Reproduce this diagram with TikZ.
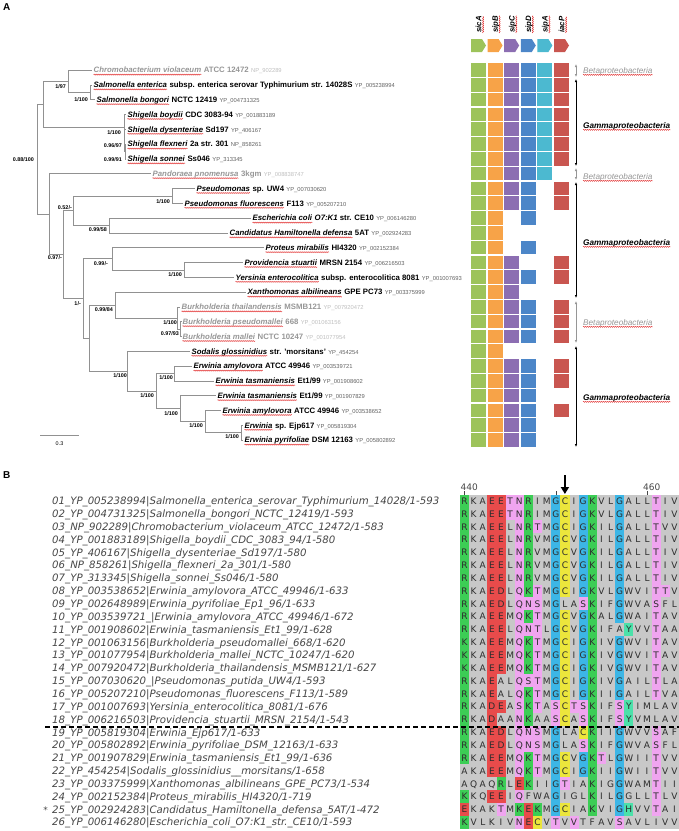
\documentclass[tikz,border=0pt]{standalone}
\usepackage{fontspec}
\setmainfont{Liberation Sans}
\newfontfamily\alnfont{DejaVu Sans}
\usepackage{xcolor}
\usepackage{tikz}
\usetikzlibrary{arrows.meta, positioning, calc, decorations.pathmorphing}
\definecolor{treegray}{RGB}{145,145,145}
\definecolor{betagray}{RGB}{150,150,150}
\definecolor{squig}{RGB}{225,45,45}
\definecolor{namegray}{RGB}{70,70,70}
\definecolor{resgray}{RGB}{45,45,45}
% gene colours
\definecolor{g1}{RGB}{157,195,90}
\definecolor{g2}{RGB}{247,163,72}
\definecolor{g3}{RGB}{140,110,178}
\definecolor{g4}{RGB}{76,134,200}
\definecolor{g5}{RGB}{76,185,208}
\definecolor{g6}{RGB}{201,86,80}
% alignment colours
\definecolor{ag}{RGB}{60,205,85}
\definecolor{ar}{RGB}{232,75,75}
\definecolor{ap}{RGB}{240,165,240}
\definecolor{ac}{RGB}{60,182,230}
\definecolor{ay}{RGB}{236,230,60}
\definecolor{at}{RGB}{75,225,170}
\definecolor{ax}{RGB}{200,200,200}
\newcommand{\strain}[2]{\textbf{#1}\hspace{0.3em}{\fontsize{5.8}{6}\selectfont\textcolor{.!62!white}{\detokenize{#2}}}}
\newcounter{alncol}
\newcommand{\alncell}[2]{%
  \pgfmathsetmacro\xl{460+\thealncol*9.125}%
  \fill[fill=a#2] (\xl,\yc-6.43) rectangle ++(9.2,12.9);%
  \node[resid] (res-\i-\thealncol) at (\xl+4.56,\yc+3.3) {#1};%
  \stepcounter{alncol}}
\def\alnstep#1#2|#3#4|{\ifx#1\relax\else\alncell{#1}{#3}\alnstep#2|#4|\fi}

\begin{document}
\begin{tikzpicture}[x=1pt, y=-1pt,
    tree/.style={draw=treegray, line width=0.6pt},
    taxlab/.style={anchor=base west, inner sep=0pt, xshift=1.5pt, yshift=-2.8pt, font=\fontsize{7.8}{9}\selectfont\bfseries\itshape},
    betalab/.style={taxlab, text=betagray},
    strainlab/.style={anchor=base west, inner sep=0pt, xshift=2.2pt, font=\fontsize{7.8}{9}\selectfont},
    betastrain/.style={strainlab, text=betagray},
    squiggle/.style={draw=squig, line width=0.4pt, decorate, decoration={snake, amplitude=0.6pt, segment length=2pt}},
    boot/.style={anchor=base east, inner sep=0pt, font=\fontsize{5.4}{6}\selectfont\bfseries},
    genelab/.style={rotate=90, anchor=base west, inner sep=0pt, font=\fontsize{7.8}{9}\selectfont\bfseries\itshape},
    grparrow/.style={{Latex[length=3pt,width=2.5pt]}-{Latex[length=3pt,width=2.5pt]}, line width=0.6pt},
    grplab/.style={anchor=base west, inner sep=0pt, font=\fontsize{8.2}{9}\selectfont\itshape},
    seqname/.style={anchor=base west, inner sep=0pt, text=namegray, font=\alnfont\itshape\fontsize{10.2}{12}\selectfont},
    resid/.style={anchor=base, inner sep=0pt, text=resgray, font=\alnfont\fontsize{9}{10}\selectfont},
    panel/.style={anchor=north west, inner sep=0pt, font=\fontsize{10}{10}\selectfont\bfseries}
]
\useasboundingbox (0,0) rectangle (679,831);

%% ---------- panel A ----------
\node[panel] (pA) at (3,3) {A};

% leaf ends
\coordinate (l1) at (92,70);
\coordinate (l2) at (92,84.8);
\coordinate (l3) at (95,99.6);
\coordinate (l4) at (126,114.4);
\coordinate (l5) at (126,129.2);
\coordinate (l6) at (126,144);
\coordinate (l7) at (126,158.8);
\coordinate (l8) at (151,173.6);
\coordinate (l9) at (195,188.4);
\coordinate (l10) at (183,203.2);
\coordinate (l11) at (251,218);
\coordinate (l12) at (228,232.8);
\coordinate (l13) at (264,247.6);
\coordinate (l14) at (243,262.4);
\coordinate (l15) at (234,277.2);
\coordinate (l16) at (246,292);
\coordinate (l17) at (180,306.8);
\coordinate (l18) at (181,321.6);
\coordinate (l19) at (181,336.4);
\coordinate (l20) at (190,351.2);
\coordinate (l21) at (192,366);
\coordinate (l22) at (214,380.8);
\coordinate (l23) at (216,395.6);
\coordinate (l24) at (221,410.4);
\coordinate (l25) at (243,425.2);
\coordinate (l26) at (243,440);
% inner nodes
\coordinate (Sa) at (90,92.2);
\coordinate (T) at (68,81.1);
\coordinate (S3) at (125.2,151.4);
\coordinate (S2) at (124.6,140.3);
\coordinate (S1) at (124,127.4);
\coordinate (A) at (43,104.2);
\coordinate (P) at (172,195.8);
\coordinate (Q) at (109,225.4);
\coordinate (D) at (73,210.6);
\coordinate (J) at (184,269.8);
\coordinate (I) at (112,258.7);
\coordinate (K2) at (180.5,329);
\coordinate (K) at (177,317.9);
\coordinate (H) at (115,305);
\coordinate (M) at (174,373.4);
\coordinate (N3) at (241,432.6);
\coordinate (N2) at (205,421.5);
\coordinate (N) at (180,408.5);
\coordinate (L) at (156,391);
\coordinate (G) at (127,371.1);
\coordinate (F) at (89,338);
\coordinate (E) at (83,298.4);
\coordinate (C) at (63,254.5);
\coordinate (B) at (49,214);
\coordinate (R) at (37,159.1);

\foreach \pa/\ch in {Sa/l2, Sa/l3, T/l1, T/Sa, S3/l6, S3/l7, S2/l5, S2/S3, S1/l4, S1/S2,
    A/T, A/S1, P/l9, P/l10, Q/l11, Q/l12, D/P, D/Q, J/l14, J/l15, I/l13, I/J,
    K2/l18, K2/l19, K/l17, K/K2, H/l16, H/K, M/l21, M/l22, N3/l25, N3/l26,
    N2/l24, N2/N3, N/l23, N/N2, L/M, L/N, G/l20, G/L, F/H, F/G, E/I, E/F,
    C/D, C/E, B/l8, B/C, R/A, R/B}
  \draw[tree] (\pa) |- (\ch);

% taxa
\node[betalab] (t1) at (l1) {Chromobacterium violaceum};
\node[betastrain] (s1) at (t1.base east) {\strain{ATCC 12472}{NP_902289}};
\node[taxlab] (t2) at (l2) {Salmonella enterica};
\node[strainlab] (s2) at (t2.base east) {\strain{subsp. enterica serovar Typhimurium str. 14028S}{YP_005238994}};
\node[taxlab] (t3) at (l3) {Salmonella bongori};
\node[strainlab] (s3) at (t3.base east) {\strain{NCTC 12419}{YP_004731325}};
\node[taxlab] (t4) at (l4) {Shigella boydii};
\node[strainlab] (s4) at (t4.base east) {\strain{CDC 3083-94}{YP_001883189}};
\node[taxlab] (t5) at (l5) {Shigella dysenteriae};
\node[strainlab] (s5) at (t5.base east) {\strain{Sd197}{YP_406167}};
\node[taxlab] (t6) at (l6) {Shigella flexneri};
\node[strainlab] (s6) at (t6.base east) {\strain{2a str. 301}{NP_858261}};
\node[taxlab] (t7) at (l7) {Shigella sonnei};
\node[strainlab] (s7) at (t7.base east) {\strain{Ss046}{YP_313345}};
\node[betalab] (t8) at (l8) {Pandoraea pnomenusa};
\node[betastrain] (s8) at (t8.base east) {\strain{3kgm}{YP_008838747}};
\node[taxlab] (t9) at (l9) {Pseudomonas};
\node[strainlab] (s9) at (t9.base east) {\strain{sp. UW4}{YP_007030620}};
\node[taxlab] (t10) at (l10) {Pseudomonas fluorescens};
\node[strainlab] (s10) at (t10.base east) {\strain{F113}{YP_005207210}};
\node[taxlab] (t11) at (l11) {Escherichia coli};
\node[strainlab] (s11) at (t11.base east) {\strain{\textit{O7:K1} str. CE10}{YP_006146280}};
\node[taxlab] (t12) at (l12) {Candidatus Hamiltonella defensa};
\node[strainlab] (s12) at (t12.base east) {\strain{5AT}{YP_002924283}};
\node[taxlab] (t13) at (l13) {Proteus mirabilis};
\node[strainlab] (s13) at (t13.base east) {\strain{HI4320}{YP_002152384}};
\node[taxlab] (t14) at (l14) {Providencia stuartii};
\node[strainlab] (s14) at (t14.base east) {\strain{MRSN 2154}{YP_006216503}};
\node[taxlab] (t15) at (l15) {Yersinia enterocolitica};
\node[strainlab] (s15) at (t15.base east) {\strain{subsp. enterocolitica 8081}{YP_001007693}};
\node[taxlab] (t16) at (l16) {Xanthomonas albilineans};
\node[strainlab] (s16) at (t16.base east) {\strain{GPE PC73}{YP_003375999}};
\node[betalab] (t17) at (l17) {Burkholderia thailandensis};
\node[betastrain] (s17) at (t17.base east) {\strain{MSMB121}{YP_007920472}};
\node[betalab] (t18) at (l18) {Burkholderia pseudomallei};
\node[betastrain] (s18) at (t18.base east) {\strain{668}{YP_001063156}};
\node[betalab] (t19) at (l19) {Burkholderia mallei};
\node[betastrain] (s19) at (t19.base east) {\strain{NCTC 10247}{YP_001077954}};
\node[taxlab] (t20) at (l20) {Sodalis glossinidius};
\node[strainlab] (s20) at (t20.base east) {\strain{str. 'morsitans'}{YP_454254}};
\node[taxlab] (t21) at (l21) {Erwinia amylovora};
\node[strainlab] (s21) at (t21.base east) {\strain{ATCC 49946}{YP_003539721}};
\node[taxlab] (t22) at (l22) {Erwinia tasmaniensis};
\node[strainlab] (s22) at (t22.base east) {\strain{Et1/99}{YP_001908602}};
\node[taxlab] (t23) at (l23) {Erwinia tasmaniensis};
\node[strainlab] (s23) at (t23.base east) {\strain{Et1/99}{YP_001907829}};
\node[taxlab] (t24) at (l24) {Erwinia amylovora};
\node[strainlab] (s24) at (t24.base east) {\strain{ATCC 49946}{YP_003538652}};
\node[taxlab] (t25) at (l25) {Erwinia};
\node[strainlab] (s25) at (t25.base east) {\strain{sp. Ejp617}{YP_005819304}};
\node[taxlab] (t26) at (l26) {Erwinia pyrifoliae};
\node[strainlab] (s26) at (t26.base east) {\strain{DSM 12163}{YP_005802892}};
% spell-check marks under the names
\foreach \k in {1,...,26}
  \draw[squiggle] ([yshift=-1.8pt]t\k.base west) -- ([yshift=-1.8pt]t\k.base east);

% support values
\foreach \bx/\by/\pp/\bs [count=\k] in {66/86/1/97, 88/99/1/100, 121/132/1/100, 122/145/0.96/97,
    122/159/0.99/91, 34/159/0.88/100, 170/201/1/100, 72/207/0.52/-, 107/229/0.99/58,
    62/257/0.97/-, 108/263/0.99/-, 182/274/1/100, 81/303/1/-, 113/309/0.99/84,
    177/322/1/100, 179/333/0.97/93, 127/375/1/100, 173/377/1/100, 154/395/1/100,
    178/413/1/100, 203/425/1/100, 239/436/1/100}
  \node[boot] (bs\k) at (\bx,\by+2) {\pp/\bs};

% scale bar
\coordinate (sb1) at (40,435);
\coordinate (sb2) at (79,435);
\draw[tree] (sb1) -- (sb2);
\node[boot, anchor=base, font=\fontsize{5.4}{6}\selectfont] (sbl) at (59.5,445) {0.3};

% gene arrows and labels
\foreach \c/\gn in {1/sicA, 2/sipB, 3/sipC, 4/sipD, 5/sipA, 6/iacP} {
  \fill[fill=g\c] ({471+(\c-1)*16.6},39) -- ++(11,0) -- ++(4,6.5) -- ++(-4,6.5) -- ++(-11,0) -- cycle;
  \node[genelab] (gn\c) at ({471+(\c-1)*16.6+10.3},33) {\gn};
  \draw[squiggle] ([xshift=1.8pt]gn\c.base west) -- ([xshift=1.8pt]gn\c.base east);
}

% presence grid
\foreach \gr/\cl in {1/{1,2,3,4,5,6}, 2/{1,2,3,4,5,6}, 3/{1,2,3,4,5,6}, 4/{1,2,3,4,5,6},
    5/{1,2,3,4,5,6}, 6/{1,2,3,4,5,6}, 7/{1,2,3,4,5,6}, 8/{1,2,3,4,5}, 9/{1,2,3,4,6},
    10/{1,2,3,4,6}, 11/{1,2,4}, 12/{1,2}, 13/{1,2,4}, 14/{1,2,3,6}, 15/{1,2,3,4,6},
    16/{1,2,3}, 17/{1,2,3,4,6}, 18/{1,2,3,4,6}, 19/{1,2,3,4,6}, 20/{1,2},
    21/{1,2,3,4,6}, 22/{1,2,3,4,6}, 23/{1,2,3,4}, 24/{1,2,3,4,6}, 25/{1,2,3,4}, 26/{1,2,3,4}} {
  \pgfmathsetmacro\yc{70+(\gr-1)*14.8}
  \foreach \c in \cl
    \fill[fill=g\c] ({471+(\c-1)*16.6},\yc-6.8) rectangle ++(15,13.6);
}

% class brackets
\coordinate (ga1) at (576,64);  \coordinate (gb1) at (576,77);
\coordinate (ga2) at (576,79);  \coordinate (gb2) at (576,166);
\coordinate (ga3) at (576,168); \coordinate (gb3) at (576,180);
\coordinate (ga4) at (576,182); \coordinate (gb4) at (576,298);
\coordinate (ga5) at (576,301); \coordinate (gb5) at (576,343);
\coordinate (ga6) at (576,346); \coordinate (gb6) at (576,447);
\draw[grparrow, betagray] (ga1) -- (gb1);
\draw[grparrow] (ga2) -- (gb2);
\draw[grparrow, betagray] (ga3) -- (gb3);
\draw[grparrow] (ga4) -- (gb4);
\draw[grparrow, betagray] (ga5) -- (gb5);
\draw[grparrow] (ga6) -- (gb6);
\node[grplab, text=betagray] (gl1) at (583,73) {Betaproteobacteria};
\node[grplab, font=\fontsize{8.2}{9}\selectfont\bfseries\itshape] (gl2) at (583,128) {Gammaproteobacteria};
\node[grplab, text=betagray] (gl3) at (583,179) {Betaproteobacteria};
\node[grplab, font=\fontsize{8.2}{9}\selectfont\bfseries\itshape] (gl4) at (583,245) {Gammaproteobacteria};
\node[grplab, text=betagray] (gl5) at (583,325) {Betaproteobacteria};
\node[grplab, font=\fontsize{8.2}{9}\selectfont\bfseries\itshape] (gl6) at (583,400) {Gammaproteobacteria};
\foreach \k in {1,...,6}
  \draw[squiggle] ([yshift=-1.8pt]gl\k.base west) -- ([yshift=-1.8pt]gl\k.base east);

%% ---------- panel B ----------
\node[panel] (pB) at (3,471) {B};

% ruler
\node[resid, anchor=base west, text=namegray] (r440) at (460.5,490) {440};
\node[resid, anchor=base west, text=namegray] (r460) at (643,490) {460};
\foreach \tx in {464.6, 555.8, 647.1}
  \draw[namegray, line width=0.6pt] (\tx,491) -- (\tx,495);
\coordinate (mk) at (564.9,475);
\coordinate (mkend) at (564.9,494);
\draw[-{Triangle[width=8pt,length=7pt]}, line width=2pt] (mk) -- (mkend);

% sequence names
\node[seqname] (sn1) at (52,504.7) {\detokenize{01_YP_005238994|Salmonella_enterica_serovar_Typhimurium_14028/1-593}};
\node[seqname] (sn2) at (52,517.55) {\detokenize{02_YP_004731325|Salmonella_bongori_NCTC_12419/1-593}};
\node[seqname] (sn3) at (52,530.4) {\detokenize{03_NP_902289|Chromobacterium_violaceum_ATCC_12472/1-583}};
\node[seqname] (sn4) at (52,543.25) {\detokenize{04_YP_001883189|Shigella_boydii_CDC_3083_94/1-580}};
\node[seqname] (sn5) at (52,556.1) {\detokenize{05_YP_406167|Shigella_dysenteriae_Sd197/1-580}};
\node[seqname] (sn6) at (52,568.95) {\detokenize{06_NP_858261|Shigella_flexneri_2a_301/1-580}};
\node[seqname] (sn7) at (52,581.8) {\detokenize{07_YP_313345|Shigella_sonnei_Ss046/1-580}};
\node[seqname] (sn8) at (52,594.65) {\detokenize{08_YP_003538652|Erwinia_amylovora_ATCC_49946/1-633}};
\node[seqname] (sn9) at (52,607.5) {\detokenize{09_YP_002648989|Erwinia_pyrifoliae_Ep1_96/1-633}};
\node[seqname] (sn10) at (52,620.35) {\detokenize{10_YP_003539721_|Erwinia_amylovora_ATCC_49946/1-672}};
\node[seqname] (sn11) at (52,633.2) {\detokenize{11_YP_001908602|Erwinia_tasmaniensis_Et1_99/1-628}};
\node[seqname] (sn12) at (52,646.05) {\detokenize{12_YP_001063156|Burkholderia_pseudomallei_668/1-620}};
\node[seqname] (sn13) at (52,658.9) {\detokenize{13_YP_001077954|Burkholderia_mallei_NCTC_10247/1-620}};
\node[seqname] (sn14) at (52,671.75) {\detokenize{14_YP_007920472|Burkholderia_thailandensis_MSMB121/1-627}};
\node[seqname] (sn15) at (52,684.6) {\detokenize{15_YP_007030620_|Pseudomonas_putida_UW4/1-593}};
\node[seqname] (sn16) at (52,697.45) {\detokenize{16_YP_005207210|Pseudomonas_fluorescens_F113/1-589}};
\node[seqname] (sn17) at (52,710.3) {\detokenize{17_YP_001007693|Yersinia_enterocolitica_8081/1-676}};
\node[seqname] (sn18) at (52,723.15) {\detokenize{18_YP_006216503|Providencia_stuartii_MRSN_2154/1-543}};
\node[seqname] (sn19) at (52,736) {\detokenize{19_YP_005819304|Erwinia_Ejp617/1-633}};
\node[seqname] (sn20) at (52,748.85) {\detokenize{20_YP_005802892|Erwinia_pyrifoliae_DSM_12163/1-633}};
\node[seqname] (sn21) at (52,761.7) {\detokenize{21_YP_001907829|Erwinia_tasmaniensis_Et1_99/1-636}};
\node[seqname] (sn22) at (52,774.55) {\detokenize{22_YP_454254|Sodalis_glossinidius__morsitans/1-658}};
\node[seqname] (sn23) at (52,787.4) {\detokenize{23_YP_003375999|Xanthomonas_albilineans_GPE_PC73/1-534}};
\node[seqname] (sn24) at (52,800.25) {\detokenize{24_YP_002152384|Proteus_mirabilis_HI4320/1-719}};
\node[seqname] (sn25) at (52,813.1) {\detokenize{25_YP_002924283|Candidatus_Hamiltonella_defensa_5AT/1-472}};
\node[seqname] (sn26) at (52,825.95) {\detokenize{26_YP_006146280|Escherichia_coli_O7:K1_str._CE10/1-593}};
\node[seqname, anchor=base east, font=\alnfont\fontsize{9}{10}\selectfont] (ast) at (48,813.1) {*};

% alignment block
\foreach \i/\seqs/\cols in {
    1/RKAEETNRIMGCIGKVLGALLTIV/gxxrrppgxxcyxcgxxcxxxpxx,
    2/RKAEETNRIMGCIGKVLGALLTIV/gxxrrppgxxcyxcgxxcxxxpxx,
    3/RKAEELNRTMGCIGKILGALLTVV/gxxrrxpgpxcyxcgxxcxxxpxx,
    4/RKAEELNRVMGCVGKILGALLTIV/gxxrrxpgxxcyxcgxxcxxxpxx,
    5/RKAEELNRVMGCVGKILGALLTIV/gxxrrxpgxxcyxcgxxcxxxpxx,
    6/RKAEELNRVMGCVGKILGALLTIV/gxxrrxpgxxcyxcgxxcxxxpxx,
    7/RKAEELNRVMGCVGKILGALLTIV/gxxrrxpgxxcyxcgxxcxxxpxx,
    8/RKAEDLQKTMGCIGKVLGWVITTV/gxxrrxpgpxcyxcgxxcxxxppx,
    9/RKAEDLQNSMGLASKIFGWVASFL/gxxrrxpppxcxxpgxxcxxxpxx,
    10/RKAEEMQKTMGCVGKALGWAITAV/gxxrrxpgpxcyxcgxxcxxxpxx,
    11/RKAEELQNTLGCVGKIFAYVVTAA/gxxrrxpppxcyxcgxxxtxxpxx,
    12/KKAEEMQKTMGCIGKIVGWVITAV/gxxrrxpgpxcyxcgxxcxxxpxx,
    13/KKAEEMQKTMGCIGKIVGWVITAV/gxxrrxpgpxcyxcgxxcxxxpxx,
    14/KKAEEMQKTMGCIGKIVGWVITAV/gxxrrxpgpxcyxcgxxcxxxpxx,
    15/RKAEALQSTMGCIGKIVGAILTLA/gxxrxxpppxcyxcgxxcxxxpxx,
    16/RKAEALQKTMGCIGKIIGAILTVA/gxxrxxpgpxcyxcgxxcxxxpxx,
    17/RKADEASKTASCTSKIFSYIMLAV/gxxrrxpgpxpyppgxxptxxxxx,
    18/RKADAANKAASCASKIFSYVMLAV/gxxrxxpgxxpyxpgxxptxxxxx,
    19/RKAEDLQNSMGLACKIIGWVVSAF/gxxrrxpppxcxxygxxcxxxpxx,
    20/RKAEDLQNSMGLASKIFGWVASFL/gxxrrxpppxcxxpgxxcxxxpxx,
    21/RKAEEMQKTMGCVGKTLGWIITVV/gxxrrxpgpxcyxcgpxcxxxpxx,
    22/AKAEEMQKTMGCIGKIIGWIITVV/xxxrrxpgpxcyxcgxxcxxxpxx,
    23/AQAQRLEKIIGTIAKIGGWAMTII/xxxxgxrgxxcpxxgxxcxxxpxx,
    24/KKQEEIQFWAGIGLKILGGLLTLV/gxxrrxpxxxcxxxgxxcxxxpxx,
    25/EKAKTMKEKMGCIAKVIGHVVTAI/rxxxpxgrgxcyxxgxxctxxpxx,
    26/KVLKIVNECVTVVTFAVSAVLIVV/gxxxxxpryxpxpxxxxpxxxxxx} {
  \pgfmathsetmacro\yc{501+(\i-1)*12.85}
  \setcounter{alncol}{0}
  \edef\alnrun{\noexpand\alnstep\seqs\noexpand\relax|\cols\noexpand\relax|}
  \alnrun
}

% split between groups
\coordinate (dl) at (45,727);
\coordinate (dr) at (679,727);
\draw[dash pattern=on 5pt off 3pt, line width=1.1pt] (dl) -- (dr);
\end{tikzpicture}
\end{document}
